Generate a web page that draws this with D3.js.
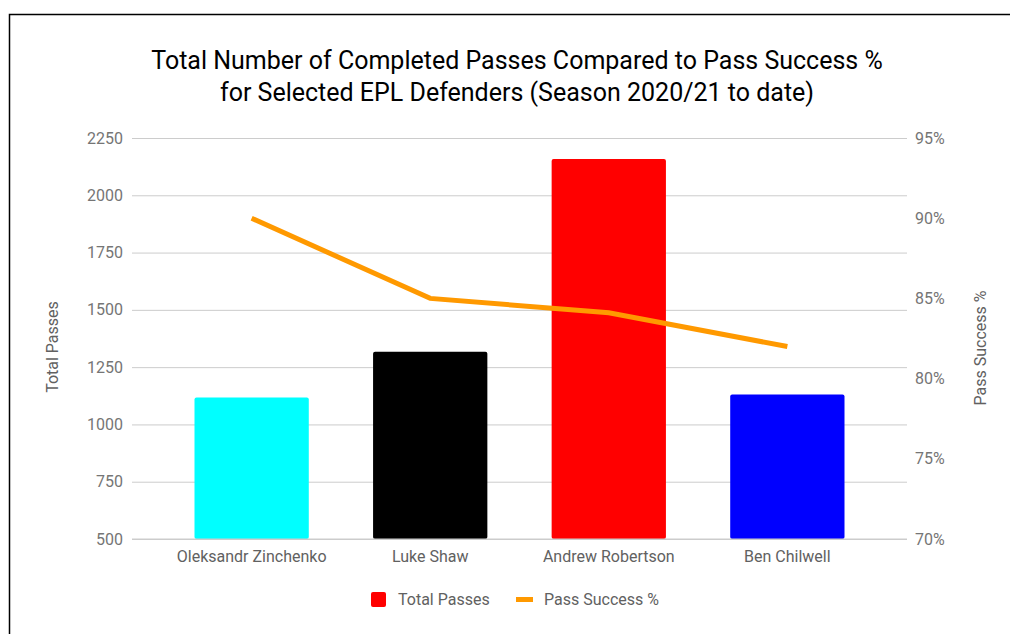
<!DOCTYPE html>
<html>
<head>
<meta charset="utf-8">
<script src="https://cdn.jsdelivr.net/npm/d3@7"></script>
<style>
  body { margin: 0; background: #fff; }
  text { font-family: Roboto, "Noto Sans", sans-serif; }
</style>
</head>
<body>
<svg id="chart" width="1010" height="634"></svg>
<script>
const players = ['Oleksandr Zinchenko', 'Luke Shaw', 'Andrew Robertson', 'Ben Chilwell'];
const totalPasses = [1117, 1317, 2158, 1131];
const passSuccess = [90, 85, 84.1, 82];
const barColors = ['#00ffff', '#000000', '#ff0000', '#0000ff'];
const leftTicks = [500, 750, 1000, 1250, 1500, 1750, 2000, 2250];
const rightTicks = [70, 75, 80, 85, 90, 95];

const svg = d3.select('#chart');
const margin = { top: 138, right: 103, bottom: 95, left: 132 };
const width = +svg.attr('width');
const height = +svg.attr('height');

// frame
svg.append('path')
  .attr('d', `M9.5,${height} V14.5 H${width}`)
  .attr('fill', 'none')
  .attr('stroke', '#000')
  .attr('stroke-width', 1.5);

// title
const title = svg.append('text')
  .attr('text-anchor', 'middle')
  .attr('font-size', 25)
  .attr('fill', '#000');
title.append('tspan').attr('x', 517).attr('y', 69)
  .text('Total Number of Completed Passes Compared to Pass Success %');
title.append('tspan').attr('x', 517).attr('y', 101)
  .text('for Selected EPL Defenders (Season 2020/21 to date)');

const x = d3.scaleBand()
  .domain(players)
  .range([margin.left, width - margin.right])
  .paddingInner(0.36)
  .paddingOuter(0.35);

const y = d3.scaleLinear()
  .domain([500, 2250])
  .range([height - margin.bottom, margin.top]);

const y2 = d3.scaleLinear()
  .domain([70, 95])
  .range([height - margin.bottom, margin.top]);

// gridlines + left axis labels
const yAxis = svg.append('g')
  .attr('transform', `translate(${margin.left},0)`)
  .call(d3.axisLeft(y).tickValues(leftTicks).tickFormat(d3.format('d'))
    .tickSize(-(width - margin.left - margin.right)).tickPadding(9));
yAxis.select('.domain').remove();
yAxis.selectAll('line').attr('stroke', '#cccccc');
yAxis.attr('font-size', 16).attr('font-family', 'Roboto');
yAxis.selectAll('text').attr('fill', '#757575');

const y2Axis = svg.append('g')
  .attr('transform', `translate(${width - margin.right},0)`)
  .call(d3.axisRight(y2).tickValues(rightTicks).tickSize(0).tickPadding(8).tickFormat(d => d + '%'));
y2Axis.select('.domain').remove();
y2Axis.attr('font-size', 16).attr('font-family', 'Roboto');
y2Axis.selectAll('text').attr('fill', '#757575');

// bars
svg.selectAll('.bar')
  .data(players)
  .enter().append('rect')
  .attr('class', 'bar')
  .attr('x', d => x(d))
  .attr('y', (d, i) => y(totalPasses[i]))
  .attr('width', x.bandwidth())
  .attr('height', (d, i) => y(500) - y(totalPasses[i]))
  .attr('rx', 2)
  .attr('fill', (d, i) => barColors[i]);

// baseline drawn over bars
svg.append('line')
  .attr('x1', margin.left).attr('x2', width - margin.right)
  .attr('y1', y(500)).attr('y2', y(500))
  .attr('stroke', '#cccccc');

// x labels
const xAxis = svg.append('g')
  .attr('transform', `translate(0,${height - margin.bottom})`)
  .call(d3.axisBottom(x).tickSize(0).tickPadding(12));
xAxis.select('.domain').remove();
xAxis.attr('font-size', 16).attr('font-family', 'Roboto');
xAxis.selectAll('text').attr('fill', '#616161');

// line
const line = d3.line()
  .x((d, i) => x(players[i]) + x.bandwidth() / 2)
  .y(d => y2(d));
svg.append('path')
  .datum(passSuccess)
  .attr('d', line)
  .attr('fill', 'none')
  .attr('stroke', '#ff9900')
  .attr('stroke-width', 5);

// axis titles
svg.append('text')
  .attr('transform', `translate(58,347) rotate(-90)`)
  .attr('text-anchor', 'middle')
  .attr('font-size', 16)
  .attr('fill', '#616161')
  .text('Total Passes');
svg.append('text')
  .attr('transform', `translate(986,348) rotate(-90)`)
  .attr('text-anchor', 'middle')
  .attr('font-size', 16)
  .attr('fill', '#616161')
  .text('Pass Success %');

// legend
const legend = svg.append('g');
legend.append('rect')
  .attr('x', 371).attr('y', 592).attr('width', 15).attr('height', 15).attr('rx', 2)
  .attr('fill', '#ff0000');
legend.append('text')
  .attr('x', 398).attr('y', 605)
  .attr('font-size', 16).attr('fill', '#616161')
  .text('Total Passes');
legend.append('line')
  .attr('x1', 516).attr('x2', 533).attr('y1', 599.5).attr('y2', 599.5)
  .attr('stroke', '#ff9900').attr('stroke-width', 5);
legend.append('text')
  .attr('x', 544).attr('y', 605)
  .attr('font-size', 16).attr('fill', '#616161')
  .text('Pass Success %');
</script>
</body>
</html>
